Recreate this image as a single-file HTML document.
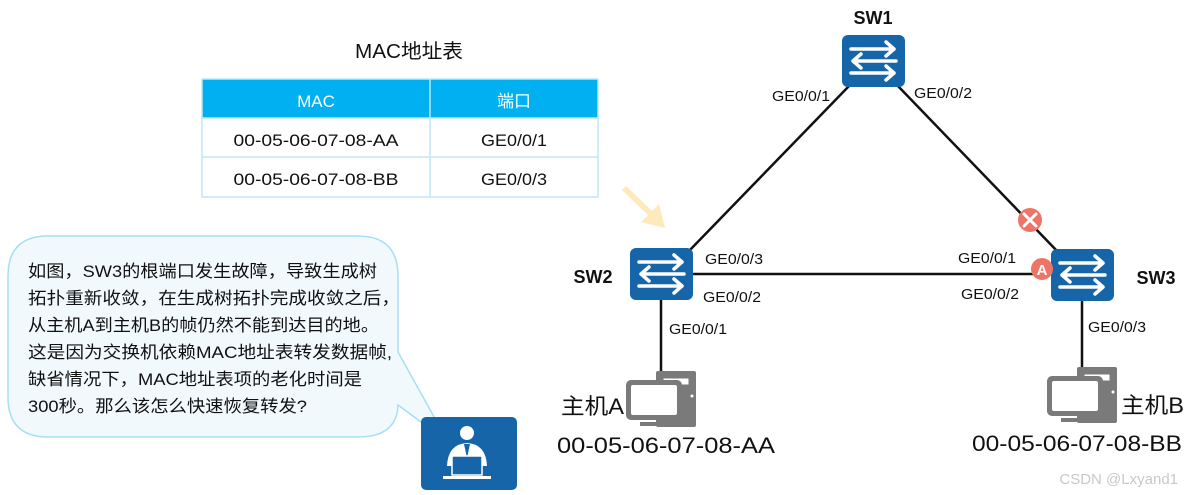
<!DOCTYPE html>
<html><head><meta charset="utf-8"><style>
html,body{margin:0;padding:0;background:#fff;}
svg{display:block;font-family:"Liberation Sans","Noto Sans CJK SC",sans-serif;}
</style></head><body>
<svg width="1184" height="495" viewBox="0 0 1184 495" xmlns="http://www.w3.org/2000/svg">
<defs>
<g id="sw">
<rect x="0" y="0" width="63" height="52" rx="6" fill="#1565a8"/>
<g stroke="#fff" stroke-width="3.5" fill="none" stroke-linecap="round" stroke-linejoin="round">
<path d="M9 14 H52 M44 7 L52 14 L44 21"/>
<path d="M54 26 H11 M19 19 L11 26 L19 33"/>
<path d="M9 38 H52 M44 31 L52 38 L44 45"/>
</g>
</g>
<g id="pc">
<rect x="30" y="0" width="40" height="56" rx="2" fill="#7a7a7a"/>
<rect x="37" y="7" width="26" height="7" fill="#fff" stroke="#7a7a7a"/>
<circle cx="66" cy="25" r="1.5" fill="#fff"/>
<rect x="0" y="9" width="56" height="40" rx="5" fill="#7a7a7a"/>
<rect x="5" y="14" width="46" height="30" rx="2" fill="#fff"/>
<rect x="14" y="51" width="30" height="4" fill="#7a7a7a"/>
</g>
</defs>

<!-- table -->
<text x="409" y="58" font-size="20" text-anchor="middle" fill="#111" textLength="108" lengthAdjust="spacingAndGlyphs">MAC地址表</text>
<rect x="202" y="79" width="396" height="39" fill="#00b0f0"/>
<rect x="202" y="79" width="396" height="118" fill="none" stroke="#bfe6f5" stroke-width="1.5"/>
<line x1="202" y1="118" x2="598" y2="118" stroke="#bfe6f5" stroke-width="1.5"/>
<line x1="202" y1="157" x2="598" y2="157" stroke="#bfe6f5" stroke-width="1.5"/>
<line x1="430" y1="79" x2="430" y2="197" stroke="#bfe6f5" stroke-width="1.5"/>
<text x="316" y="107" font-size="17" fill="#fff" text-anchor="middle">MAC</text>
<text x="514" y="107" font-size="17" fill="#fff" text-anchor="middle">端口</text>
<text x="316" y="146" font-size="17" fill="#111" text-anchor="middle" textLength="165" lengthAdjust="spacingAndGlyphs">00-05-06-07-08-AA</text>
<text x="514" y="146" font-size="17" fill="#111" text-anchor="middle" textLength="66" lengthAdjust="spacingAndGlyphs">GE0/0/1</text>
<text x="316" y="185" font-size="17" fill="#111" text-anchor="middle" textLength="165" lengthAdjust="spacingAndGlyphs">00-05-06-07-08-BB</text>
<text x="514" y="185" font-size="17" fill="#111" text-anchor="middle" textLength="66" lengthAdjust="spacingAndGlyphs">GE0/0/3</text>

<!-- bubble -->
<path d="M48 236 H358 Q398 236 398 276 V352 L448 442 L398 405 Q397 437 358 437 H48 Q8 437 8 397 V276 Q8 236 48 236 Z" fill="#f1f9fd" stroke="#a6dff5" stroke-width="1.5"/>
<g font-size="17" fill="#111" lengthAdjust="spacingAndGlyphs">
<text x="28" y="277" textLength="349" lengthAdjust="spacingAndGlyphs">如图，SW3的根端口发生故障，导致生成树</text>
<text x="28" y="304" textLength="372" lengthAdjust="spacingAndGlyphs">拓扑重新收敛，在生成树拓扑完成收敛之后，</text>
<text x="28" y="331" textLength="351" lengthAdjust="spacingAndGlyphs">从主机A到主机B的帧仍然不能到达目的地。</text>
<text x="28" y="358" textLength="364" lengthAdjust="spacingAndGlyphs">这是因为交换机依赖MAC地址表转发数据帧,</text>
<text x="28" y="385" textLength="334" lengthAdjust="spacingAndGlyphs">缺省情况下，MAC地址表项的老化时间是</text>
<text x="28" y="412" textLength="279" lengthAdjust="spacingAndGlyphs">300秒。那么该怎么快速恢复转发?</text>
</g>
<!-- person -->
<rect x="421" y="417" width="96" height="73" rx="5" fill="#1565a8"/>
<circle cx="467" cy="433" r="7" fill="#fff"/>
<path d="M447 466 Q448 444 467 443 Q486 444 487 466 Z" fill="#fff"/>
<path d="M464 444 L470 444 L467 458 Z" fill="#1565a8"/>
<rect x="452" y="456" width="30" height="19" fill="#1565a8" stroke="#fff" stroke-width="1.5"/>
<rect x="443" y="476" width="48" height="3" fill="#fff"/>

<!-- links -->
<g stroke="#111" stroke-width="2.5">
<line x1="850" y1="85" x2="688" y2="252"/>
<line x1="897" y1="85" x2="1058" y2="252"/>
<line x1="693" y1="274" x2="1051" y2="274"/>
<line x1="661" y1="300" x2="661" y2="375"/>
<line x1="1082" y1="301" x2="1082" y2="367"/>
</g>

<!-- arrow -->
<path d="M622 190 L648 215 L641 222 L665 228 L659 204 L652 211 L626 186 Z" fill="#fde3a8" opacity="0.8"/>

<use href="#sw" x="842" y="35"/>
<use href="#sw" x="630" y="248"/>
<use href="#sw" x="1051" y="249"/>

<text x="873" y="24" font-size="18" font-weight="bold" text-anchor="middle" fill="#111">SW1</text>
<text x="593" y="283" font-size="18" font-weight="bold" text-anchor="middle" fill="#111">SW2</text>
<text x="1156" y="284" font-size="18" font-weight="bold" text-anchor="middle" fill="#111">SW3</text>

<g font-size="15" fill="#111">
<text x="772" y="101" textLength="58" lengthAdjust="spacingAndGlyphs">GE0/0/1</text>
<text x="914" y="98" textLength="58" lengthAdjust="spacingAndGlyphs">GE0/0/2</text>
<text x="705" y="264" textLength="58" lengthAdjust="spacingAndGlyphs">GE0/0/3</text>
<text x="703" y="302" textLength="58" lengthAdjust="spacingAndGlyphs">GE0/0/2</text>
<text x="958" y="263" textLength="58" lengthAdjust="spacingAndGlyphs">GE0/0/1</text>
<text x="961" y="299" textLength="58" lengthAdjust="spacingAndGlyphs">GE0/0/2</text>
<text x="669" y="334" textLength="58" lengthAdjust="spacingAndGlyphs">GE0/0/1</text>
<text x="1088" y="332" textLength="58" lengthAdjust="spacingAndGlyphs">GE0/0/3</text>
</g>

<!-- X and A markers -->
<circle cx="1030" cy="220" r="12" fill="#ee7468"/>
<g stroke="#fff" stroke-width="3" stroke-linecap="round"><line x1="1024" y1="214" x2="1036" y2="226"/><line x1="1036" y1="214" x2="1024" y2="226"/></g>
<circle cx="1042" cy="269" r="11" fill="#ee7468"/>
<text x="1042" y="275" font-size="15" font-weight="bold" fill="#fff" text-anchor="middle">A</text>

<!-- PCs -->
<use href="#pc" x="626" y="371"/>
<use href="#pc" x="1047" y="367"/>
<text x="561" y="414" font-size="22" fill="#111" textLength="63" lengthAdjust="spacingAndGlyphs">主机A</text>
<text x="1121" y="413" font-size="22" fill="#111" textLength="63" lengthAdjust="spacingAndGlyphs">主机B</text>
<text x="666" y="453" font-size="22" fill="#111" text-anchor="middle" textLength="218" lengthAdjust="spacingAndGlyphs">00-05-06-07-08-AA</text>
<text x="1077" y="451" font-size="22" fill="#111" text-anchor="middle" textLength="210" lengthAdjust="spacingAndGlyphs">00-05-06-07-08-BB</text>
<text x="1178" y="484" font-size="15" fill="#c8c8c8" text-anchor="end">CSDN @Lxyand1</text>
</svg>
</body></html>
